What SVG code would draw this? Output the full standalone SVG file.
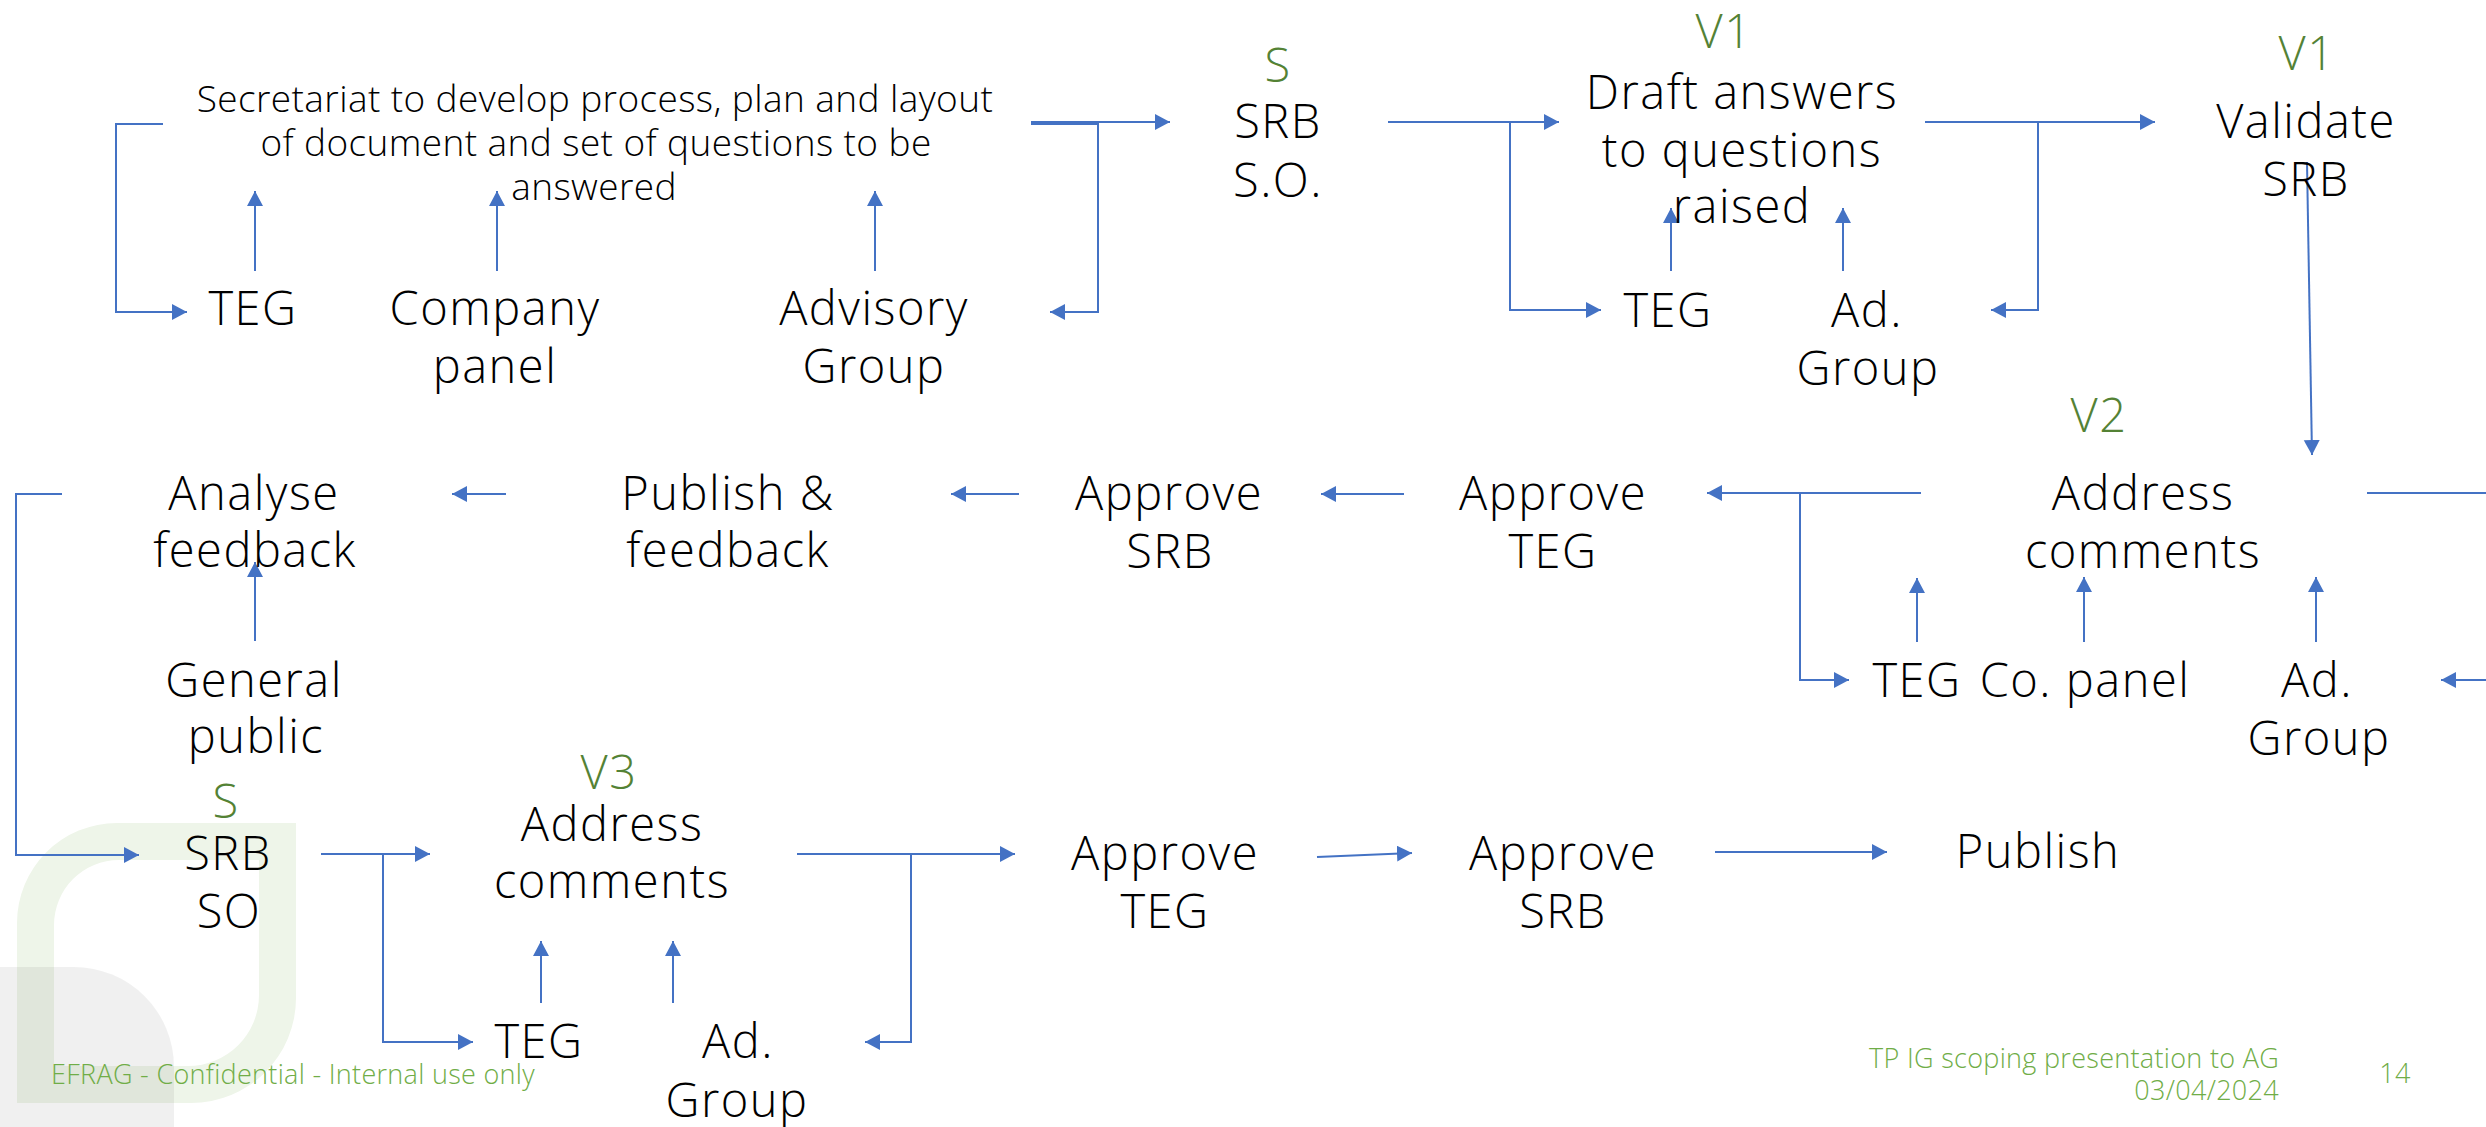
<svg xmlns="http://www.w3.org/2000/svg" width="2486" height="1127" viewBox="0 0 2486 1127">
<style>
.t{font-family:"Open Sans",Lato,"Liberation Sans",sans-serif;font-weight:300;font-size:47px;letter-spacing:1.5px;fill:#000;text-anchor:middle}
.s{font-size:37px;letter-spacing:0.4px}
.g{fill:#548235}
.f{font-family:"Open Sans",Lato,"Liberation Sans",sans-serif;font-weight:300;font-size:27px;letter-spacing:0.3px;fill:#70AD47}
.c{fill:none;stroke:#4472C4;stroke-width:2}
.a{marker-end:url(#ah)}
</style>
<defs>
<marker id="ah" markerUnits="userSpaceOnUse" markerWidth="16" markerHeight="18" refX="15" refY="8" orient="auto">
<path d="M0,0 L15,8 L0,16 Z" fill="#4472C4"/>
</marker>
</defs>
<rect width="2486" height="1127" fill="#fff"/>
<g id="logo">
<path d="M17,923 A100,100 0 0 1 117,823 H296 V998 A105,105 0 0 1 191,1103 H17 Z M54,925 A65,65 0 0 1 119,860 H259 V995 A71,71 0 0 1 188,1066 H54 Z" fill="#eef5e9" fill-rule="evenodd"/>
<path d="M0,967 H74 A100,100 0 0 1 174,1067 V1127 H0 Z" fill="#000" fill-opacity="0.06"/>
</g>
<g id="connectors">
<path class="c a" d="M163,124 H116 V312 H187"/>
<path class="c a" d="M255,271 V191"/>
<path class="c a" d="M497,271 V191"/>
<path class="c a" d="M875,271 V191"/>
<path class="c a" d="M1031,122 H1170"/>
<path class="c a" d="M1031,124 H1098 V312 H1050"/>
<path class="c a" d="M1388,122 H1559"/>
<path class="c a" d="M1510,122 V310 H1601"/>
<path class="c a" d="M1671,271 V208"/>
<path class="c a" d="M1843,271 V208"/>
<path class="c a" d="M1925,122 H2155"/>
<path class="c a" d="M2038,122 V310 H1991"/>
<path class="c a" d="M2307,162 L2312,455"/>
<path class="c a" d="M1921,493 H1707"/>
<path class="c a" d="M1800,493 V680 H1849"/>
<path class="c" d="M2367,493 H2486"/>
<path class="c a" d="M1917,642 V578"/>
<path class="c a" d="M2084,642 V577"/>
<path class="c a" d="M2316,642 V577"/>
<path class="c a" d="M2486,680 H2441"/>
<path class="c a" d="M1404,494 H1321"/>
<path class="c a" d="M1019,494 H951"/>
<path class="c a" d="M506,494 H452"/>
<path class="c a" d="M255,641 V562"/>
<path class="c a" d="M62,494 H16 V855 H139"/>
<path class="c a" d="M321,854 H430"/>
<path class="c a" d="M383,854 V1042 H473"/>
<path class="c a" d="M541,1003 V941"/>
<path class="c a" d="M673,1003 V941"/>
<path class="c a" d="M797,854 H1015"/>
<path class="c a" d="M911,854 V1042 H865"/>
<path class="c a" d="M1317,857 L1412,853"/>
<path class="c a" d="M1715,852 H1887"/>
</g>
<g id="secretariat"><text class="t s" x="595" y="112">Secretariat to develop process, plan and layout</text><text class="t s" x="596" y="156">of document and set of questions to be</text><text class="t s" x="594" y="200">answered</text></g>
<g id="teg1"><text class="t" x="253" y="325">TEG</text></g>
<g id="company"><text class="t" x="495" y="325">Company</text><text class="t" x="495" y="383">panel</text></g>
<g id="advisory"><text class="t" x="874" y="325">Advisory</text><text class="t" x="874" y="383">Group</text></g>
<g id="srb1"><text class="t g" x="1278" y="82">S</text><text class="t" x="1278" y="138">SRB</text><text class="t" x="1278" y="197">S.O.</text></g>
<g id="draft"><text class="t g" x="1724" y="48">V1</text><text class="t" x="1742" y="109">Draft answers</text><text class="t" x="1742" y="167">to questions</text><text class="t" x="1742" y="223">raised</text></g>
<g id="teg2"><text class="t" x="1668" y="327">TEG</text></g>
<g id="adgroup2"><text class="t" x="1867" y="327">Ad.</text><text class="t" x="1868" y="385">Group</text></g>
<g id="validate"><text class="t g" x="2307" y="70">V1</text><text class="t" x="2306" y="138">Validate</text><text class="t" x="2306" y="196">SRB</text></g>
<g id="address2"><text class="t g" x="2099" y="432">V2</text><text class="t" x="2143" y="510">Address</text><text class="t" x="2143" y="568">comments</text></g>
<g id="teg3"><text class="t" x="1917" y="697">TEG</text></g>
<g id="copanel"><text class="t" x="2085" y="697">Co. panel</text></g>
<g id="adgroup3"><text class="t" x="2317" y="697">Ad.</text><text class="t" x="2319" y="755">Group</text></g>
<g id="approveteg1"><text class="t" x="1553" y="510">Approve</text><text class="t" x="1553" y="568">TEG</text></g>
<g id="approvesrb1"><text class="t" x="1169" y="510">Approve</text><text class="t" x="1170" y="568">SRB</text></g>
<g id="publishfb"><text class="t" x="728" y="510">Publish &amp;</text><text class="t" x="728" y="567">feedback</text></g>
<g id="analyse"><text class="t" x="254" y="510">Analyse</text><text class="t" x="255" y="567">feedback</text></g>
<g id="general"><text class="t" x="254" y="697">General</text><text class="t" x="256" y="753">public</text></g>
<g id="srb3"><text class="t g" x="226" y="818">S</text><text class="t" x="228" y="870">SRB</text><text class="t" x="229" y="928">SO</text></g>
<g id="address3"><text class="t g" x="609" y="789">V3</text><text class="t" x="612" y="841">Address</text><text class="t" x="612" y="898">comments</text></g>
<g id="teg4"><text class="t" x="539" y="1058">TEG</text></g>
<g id="adgroup4"><text class="t" x="738" y="1058">Ad.</text><text class="t" x="737" y="1117">Group</text></g>
<g id="approveteg2"><text class="t" x="1165" y="870">Approve</text><text class="t" x="1165" y="928">TEG</text></g>
<g id="approvesrb2"><text class="t" x="1563" y="870">Approve</text><text class="t" x="1563" y="928">SRB</text></g>
<g id="publish"><text class="t" x="2038" y="868">Publish</text></g>
<g id="footer">
<text class="f" x="51" y="1084">EFRAG - Confidential  - Internal use only</text>
<text class="f" x="2279" y="1068" text-anchor="end">TP IG scoping presentation to AG</text>
<text class="f" x="2279" y="1100" text-anchor="end">03/04/2024</text>
<text class="f" x="2395" y="1083" text-anchor="middle">14</text>
</g>
</svg>
